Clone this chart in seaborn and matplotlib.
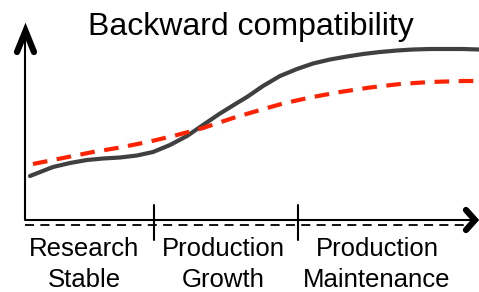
import matplotlib
matplotlib.use("Agg")
import matplotlib.pyplot as plt
import seaborn as sns

# Data (x = time along lifecycle, y = compatibility level)
solid_x = [30, 53, 70, 87, 103, 120, 137, 153, 170, 187, 203, 220, 237, 247, 263, 280,
           297, 313, 330, 347, 363, 380, 397, 413, 430, 447, 463, 479]
solid_y = [116, 125, 129, 132, 133.5, 134.5, 136.5, 140, 147, 156, 167, 178.5, 189, 195, 206, 216,
           223, 228.5, 232.5, 235.5, 238, 240, 241.5, 242.5, 243, 243, 243, 242.5]
red_x = [33, 63, 93, 120, 150, 177, 203, 233, 255, 283, 310, 340, 370, 400, 430, 463, 479]
red_y = [128, 134, 140, 144.5, 150.5, 157, 164, 174, 180.5, 188.5, 194.5, 200, 204.5, 208, 210, 211, 211]

title = "Backward compatibility"
phase_labels = [("Research", "Stable"), ("Production", "Growth"), ("Production", "Maintenance")]
phase_centers = [84, 223, 377]
dividers = [154, 298]

sns.set_theme(style="white")
plt.rcParams["font.family"] = ["Liberation Sans", "DejaVu Sans"]

fig = plt.figure(figsize=(4.79, 2.92), dpi=100)
ax = fig.add_axes([0, 0, 1, 1])
ax.set_xlim(0, 479)
ax.set_ylim(0, 292)
ax.axis("off")

sns.lineplot(x=solid_x, y=solid_y, ax=ax, color="#404040", lw=3, sort=False)
sns.lineplot(x=red_x, y=red_y, ax=ax, color="#ff2200", lw=3, sort=False)
ax.lines[-1].set_dashes((3.5, 2.3))
for ln in ax.lines:
    ln.set_solid_joinstyle("round")

# axes
axis_y = 72
ax.plot([25.5, 25.5], [axis_y, 258], color="black", lw=1.5, solid_capstyle="butt")
ax.plot([17, 25.5, 34], [240, 261, 240], color="black", lw=4.5,
        solid_joinstyle="miter", solid_capstyle="round")
ax.plot([25, 472], [axis_y, axis_y], color="black", lw=1.5)
ax.plot([466, 475, 466], [82, axis_y, 62], color="black", lw=4.5,
        solid_joinstyle="miter", solid_capstyle="round")
ax.plot([25, 466], [67, 67], color="black", lw=1.3, dashes=(5, 3.5))
for d in dividers:
    ax.plot([d, d], [52, 87], color="black", lw=1.5)

for (l1, l2), cx in zip(phase_labels, phase_centers):
    ax.text(cx, 292 - 256, l1, ha="center", va="baseline", fontsize=18.5, color="black")
    ax.text(cx, 292 - 287, l2, ha="center", va="baseline", fontsize=18.5, color="black")

ax.text(251, 292 - 35, title, ha="center", va="baseline", fontsize=23, color="black")

fig.savefig("out.png", dpi=100)
